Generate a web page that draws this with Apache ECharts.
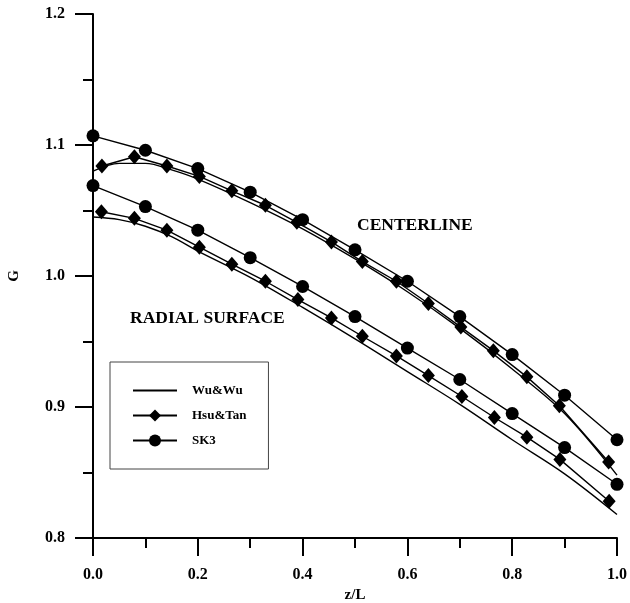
<!DOCTYPE html>
<html>
<head>
<meta charset="utf-8">
<script src="https://cdn.jsdelivr.net/npm/echarts@6/dist/echarts.min.js"></script>
<style>
  html, body { margin: 0; padding: 0; background: #fff; }
  #chart { width: 630px; height: 603px; }
</style>
</head>
<body>
<div id="chart"></div>
<script>
// Axial positions and G values for each model
const zSK3 = [0, 0.1, 0.2, 0.3, 0.4, 0.5, 0.6, 0.7, 0.8, 0.9, 1.0];
const sk3Center = [1.107, 1.096, 1.082, 1.064, 1.043, 1.020, 0.996, 0.969, 0.940, 0.909, 0.875];
const sk3Radial = [1.069, 1.053, 1.035, 1.014, 0.992, 0.969, 0.945, 0.921, 0.895, 0.869, 0.841];

const zHsuCenter = [0.017, 0.079, 0.141, 0.203, 0.265, 0.329, 0.389, 0.455, 0.514, 0.579, 0.640, 0.702, 0.764, 0.828, 0.890, 0.984];
const hsuCenter  = [1.084, 1.091, 1.084, 1.076, 1.065, 1.054, 1.041, 1.026, 1.011, 0.996, 0.979, 0.961, 0.943, 0.923, 0.901, 0.858];

const zHsuRadial = [0.016, 0.079, 0.141, 0.203, 0.265, 0.329, 0.391, 0.455, 0.514, 0.579, 0.640, 0.704, 0.766, 0.828, 0.891, 0.985];
const hsuRadial  = [1.049, 1.044, 1.035, 1.022, 1.009, 0.996, 0.982, 0.968, 0.954, 0.939, 0.924, 0.908, 0.892, 0.877, 0.860, 0.828];

const zWu = [0, 0.05, 0.1, 0.15, 0.2, 0.3, 0.4, 0.5, 0.6, 0.7, 0.8, 0.9, 1.0];
const wuCenter = [1.080, 1.086, 1.086, 1.081, 1.074, 1.056, 1.036, 1.013, 0.988, 0.960, 0.929, 0.895, 0.848];
const wuRadial = [1.045, 1.043, 1.038, 1.030, 1.019, 0.999, 0.976, 0.952, 0.927, 0.902, 0.875, 0.849, 0.818];

const xTicks = { min: 0, max: 1, step: 0.2 };
const yTicks = { min: 0.8, max: 1.2, step: 0.1 };

const FONT = "'Liberation Serif', 'Times New Roman', serif";

function pairs(xs, ys) {
  return xs.map((x, i) => [x, ys[i]]);
}

const wuStyle = {
  type: 'line', name: 'Wu&Wu', symbol: 'none', smooth: 0.35,
  lineStyle: { color: '#000', width: 1.4 }, itemStyle: { color: '#000' },
  z: 2
};
const hsuStyle = {
  type: 'line', name: 'Hsu&Tan', symbol: 'diamond', symbolSize: [13, 15],
  lineStyle: { color: '#000', width: 1.4 }, itemStyle: { color: '#000' },
  z: 3
};
const sk3Style = {
  type: 'line', name: 'SK3', symbol: 'circle', symbolSize: 13,
  lineStyle: { color: '#000', width: 1.4 }, itemStyle: { color: '#000' },
  z: 4
};

const chart = echarts.init(document.getElementById('chart'));
chart.setOption({
  animation: false,
  backgroundColor: '#fff',
  grid: { left: 93, right: 13, top: 14, bottom: 65, containLabel: false, outerBoundsMode: 'none' },
  xAxis: {
    type: 'value',
    min: xTicks.min, max: xTicks.max, interval: xTicks.step,
    name: 'z/L', nameLocation: 'middle', nameGap: 47,
    nameTextStyle: { fontFamily: FONT, fontWeight: 'bold', fontSize: 15, color: '#000' },
    axisLine: { show: true, lineStyle: { color: '#000', width: 2 } },
    axisTick: { show: true, inside: false, length: 18, lineStyle: { color: '#000', width: 2 } },
    minorTick: { show: true, splitNumber: 2, length: 10, lineStyle: { color: '#000', width: 2 } },
    splitLine: { show: false },
    axisLabel: {
      margin: 29, color: '#000', fontFamily: FONT, fontWeight: 'bold', fontSize: 16,
      formatter: v => v.toFixed(1)
    }
  },
  yAxis: {
    type: 'value',
    min: yTicks.min, max: yTicks.max, interval: yTicks.step,
    name: 'G', nameLocation: 'middle', nameGap: 71, nameRotate: 90,
    nameTextStyle: { fontFamily: FONT, fontWeight: 'bold', fontSize: 15, color: '#000' },
    axisLine: { show: true, lineStyle: { color: '#000', width: 2 } },
    axisTick: { show: true, inside: false, length: 18, lineStyle: { color: '#000', width: 2 } },
    minorTick: { show: true, splitNumber: 2, length: 10, lineStyle: { color: '#000', width: 2 } },
    splitLine: { show: false },
    axisLabel: {
      margin: 28, color: '#000', fontFamily: FONT, fontWeight: 'bold', fontSize: 16,
      formatter: v => v.toFixed(1)
    }
  },
  legend: {
    data: [
      { name: 'Wu&Wu', itemStyle: { opacity: 0 } },
      { name: 'Hsu&Tan' },
      { name: 'SK3' }
    ],
    orient: 'vertical',
    left: 110, top: 362,
    itemWidth: 44, itemHeight: 15, itemGap: 12,
    padding: [22, 22, 22, 22],
    borderColor: '#444', borderWidth: 1,
    textStyle: {
      fontFamily: FONT, fontWeight: 'bold', fontSize: 13, color: '#000',
      padding: [0, 0, 0, 10]
    }
  },
  graphic: [
    {
      type: 'text', left: 357, top: 216,
      style: { text: 'CENTERLINE', fill: '#000', font: "bold 17.5px " + FONT }
    },
    {
      type: 'text', left: 130, top: 309,
      style: { text: 'RADIAL SURFACE', fill: '#000', font: "bold 17.5px " + FONT }
    }
  ],
  series: [
    Object.assign({}, wuStyle, { data: pairs(zWu, wuCenter) }),
    Object.assign({}, wuStyle, { data: pairs(zWu, wuRadial) }),
    Object.assign({}, hsuStyle, { data: pairs(zHsuCenter, hsuCenter) }),
    Object.assign({}, hsuStyle, { data: pairs(zHsuRadial, hsuRadial) }),
    Object.assign({}, sk3Style, { data: pairs(zSK3, sk3Center) }),
    Object.assign({}, sk3Style, { data: pairs(zSK3, sk3Radial) })
  ]
});
</script>
</body>
</html>
